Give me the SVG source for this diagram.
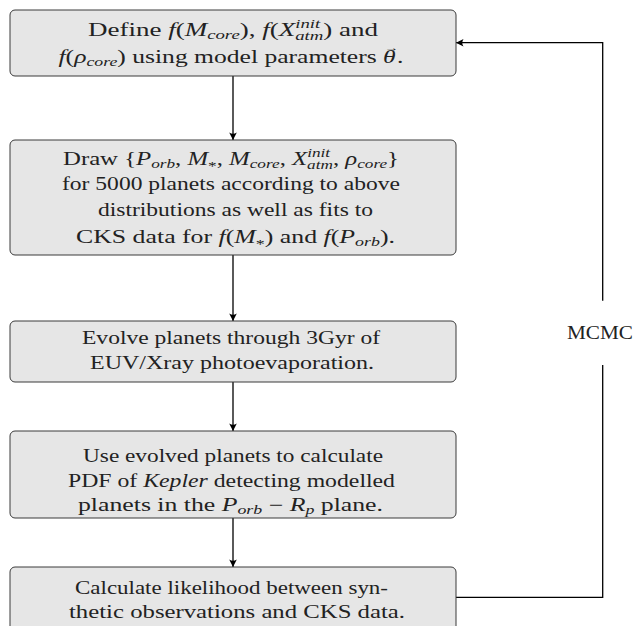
<svg xmlns="http://www.w3.org/2000/svg" width="640" height="626" viewBox="0 0 640 626">
<style>
.box{fill:#e6e6e6;stroke:#3a3a3a;stroke-width:1}
.t{font-family:"Liberation Serif","DejaVu Serif",serif;font-size:18px;fill:#222;text-anchor:middle}
.i{font-style:italic}
.s{font-size:12.5px}
.c{fill:none;stroke:#000;stroke-width:1.3}
</style>
<defs>
<marker id="ah" viewBox="-9 -5 10 10" refX="0" refY="0" markerWidth="10" markerHeight="10" orient="auto" markerUnits="userSpaceOnUse">
<path d="M0,0 L-7.5,-3.8 Q-5,0 -7.5,3.8 Z" fill="#000"/>
</marker>
</defs>
<rect width="640" height="626" fill="#fff"/>
<g id="connectors">
<path class="c" d="M233,76 V140" marker-end="url(#ah)"/>
<path class="c" d="M233,255 V321" marker-end="url(#ah)"/>
<path class="c" d="M233,382 V431" marker-end="url(#ah)"/>
<path class="c" d="M233,518 V567" marker-end="url(#ah)"/>
<path class="c" d="M456,597.3 H602.7 V365"/>
<path class="c" d="M602.7,300.7 V42.7 H456" marker-end="url(#ah)"/>
<text class="t" x="600" y="339" textLength="66" lengthAdjust="spacingAndGlyphs">MCMC</text>
</g>
<g id="node1">
<rect class="box" x="10" y="10" width="446" height="66" rx="5"/>
<text class="t" x="233" y="36" textLength="290" lengthAdjust="spacingAndGlyphs">Define <tspan class="i">f</tspan>(<tspan class="i">M</tspan><tspan class="i s" dy="3">core</tspan><tspan dy="-3">), </tspan><tspan class="i">f</tspan>(<tspan class="i">X</tspan><tspan class="i s" dy="-8">init</tspan><tspan class="i s" dx="-16.7" dy="12">atm</tspan><tspan dy="-4">) and</tspan></text>
<text class="t" x="231" y="63" textLength="345" lengthAdjust="spacingAndGlyphs"><tspan class="i">f</tspan>(<tspan class="i">ρ</tspan><tspan class="i s" dy="3">core</tspan><tspan dy="-3">) using model parameters </tspan><tspan class="i">θ</tspan><tspan font-size="10" dx="-8" dy="-12">→</tspan><tspan dx="-1" dy="12">.</tspan></text>
</g>
<g id="node2">
<rect class="box" x="10" y="140" width="446" height="115" rx="5"/>
<text class="t" x="231" y="164.5" textLength="336" lengthAdjust="spacingAndGlyphs">Draw {<tspan class="i">P</tspan><tspan class="i s" dy="3">orb</tspan><tspan dy="-3">, </tspan><tspan class="i">M</tspan><tspan class="s" dy="5">*</tspan><tspan dy="-5">, </tspan><tspan class="i">M</tspan><tspan class="i s" dy="3">core</tspan><tspan dy="-3">, </tspan><tspan class="i">X</tspan><tspan class="i s" dy="-8">init</tspan><tspan class="i s" dx="-16.7" dy="12">atm</tspan><tspan dy="-4">, </tspan><tspan class="i">ρ</tspan><tspan class="i s" dy="3">core</tspan><tspan dy="-3">}</tspan></text>
<text class="t" x="231" y="190" textLength="338" lengthAdjust="spacingAndGlyphs">for 5000 planets according to above</text>
<text class="t" x="235.5" y="216" textLength="275" lengthAdjust="spacingAndGlyphs">distributions as well as fits to</text>
<text class="t" x="235.5" y="242.7" textLength="319" lengthAdjust="spacingAndGlyphs">CKS data for <tspan class="i">f</tspan>(<tspan class="i">M</tspan><tspan class="s" dy="5">*</tspan><tspan dy="-5">) and </tspan><tspan class="i">f</tspan>(<tspan class="i">P</tspan><tspan class="i s" dy="3">orb</tspan><tspan dy="-3">).</tspan></text>
</g>
<g id="node3">
<rect class="box" x="10" y="321" width="446" height="61" rx="5"/>
<text class="t" x="231" y="344" textLength="298" lengthAdjust="spacingAndGlyphs">Evolve planets through 3Gyr of</text>
<text class="t" x="232" y="369" textLength="284" lengthAdjust="spacingAndGlyphs">EUV/Xray photoevaporation.</text>
</g>
<g id="node4">
<rect class="box" x="10" y="431" width="446" height="87" rx="5"/>
<text class="t" x="233" y="462" textLength="300" lengthAdjust="spacingAndGlyphs">Use evolved planets to calculate</text>
<text class="t" x="231.5" y="487" textLength="327" lengthAdjust="spacingAndGlyphs">PDF of <tspan class="i">Kepler</tspan> detecting modelled</text>
<text class="t" x="230.5" y="510.7" textLength="305" lengthAdjust="spacingAndGlyphs">planets in the <tspan class="i">P</tspan><tspan class="i s" dy="3">orb</tspan><tspan dy="-3"> − </tspan><tspan class="i">R</tspan><tspan class="i s" dy="3">p</tspan><tspan dy="-3"> plane.</tspan></text>
</g>
<g id="node5">
<rect class="box" x="10" y="567" width="446" height="70" rx="5"/>
<text class="t" x="231.5" y="593.5" textLength="313" lengthAdjust="spacingAndGlyphs">Calculate likelihood between syn-</text>
<text class="t" x="237" y="618" textLength="336" lengthAdjust="spacingAndGlyphs">thetic observations and CKS data.</text>
</g>
</svg>
